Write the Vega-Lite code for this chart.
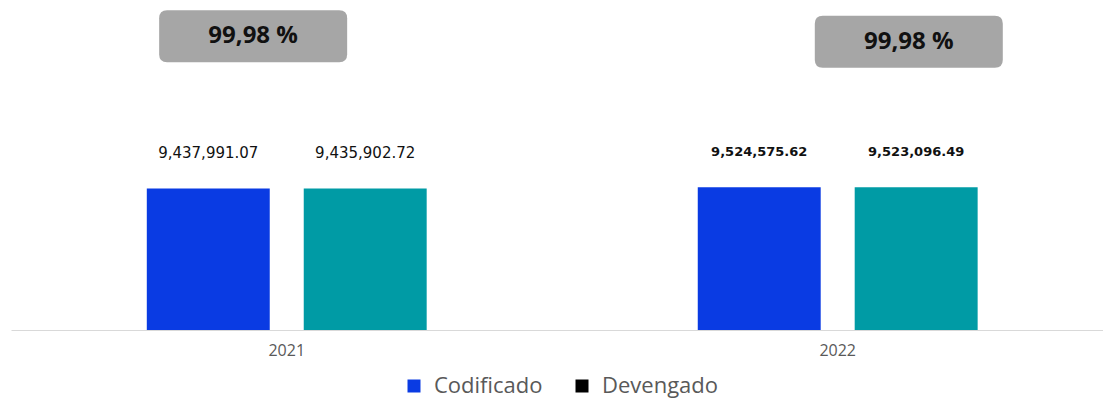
{
  "$schema": "https://vega.github.io/schema/vega-lite/v6.json",
  "width": 1092,
  "height": 330,
  "padding": {"left": 11, "top": 0, "right": 0, "bottom": 70},
  "autosize": {"type": "none"},
  "background": "#ffffff",
  "config": {"view": {"stroke": null}},
  "datasets": {
    "montos": [
      {"year": "2021", "serie": "Codificado", "valor": 9437991.07, "etiqueta": "9,437,991.07"},
      {"year": "2021", "serie": "Devengado", "valor": 9435902.72, "etiqueta": "9,435,902.72"},
      {"year": "2022", "serie": "Codificado", "valor": 9524575.62, "etiqueta": "9,524,575.62"},
      {"year": "2022", "serie": "Devengado", "valor": 9523096.49, "etiqueta": "9,523,096.49"}
    ],
    "pct": [
      {"year": "2021", "pct": "99,98 %"},
      {"year": "2022", "pct": "99,98 %"}
    ]
  },
  "data": {"name": "montos"},
  "encoding": {
    "x": {
      "field": "year", "type": "nominal",
      "scale": {"domain": ["2021", "2022"], "paddingInner": 0.492, "paddingOuter": 0.237, "align": 0.52},
      "axis": {
        "title": null, "labelAngle": 0, "ticks": false, "domainColor": "#d9d9d9", "domainWidth": 1,
        "labelFont": "Open Sans", "labelFontSize": 16, "labelColor": "#595959", "labelPadding": 12
      }
    },
    "xOffset": {"field": "serie", "type": "nominal", "scale": {"domain": ["Codificado", "Devengado"], "paddingInner": 0.2166, "paddingOuter": 0}}
  },
  "layer": [
    {
      "mark": {"type": "point", "filled": true, "opacity": 1, "shape": "square", "size": 169, "strokeWidth": 0, "yOffset": 40},
      "encoding": {
        "y": {"field": "valor", "type": "quantitative", "scale": {"domain": [0, 22000000], "nice": false}, "axis": null},
        "color": {
          "field": "serie", "type": "nominal",
          "scale": {"domain": ["Codificado", "Devengado"], "range": ["#0a3be3", "#000000"]},
          "legend": {
            "orient": "none", "legendX": 392, "legendY": 375, "direction": "horizontal", "title": null,
            "symbolType": "square", "symbolSize": 169, "symbolStrokeWidth": 0,
            "labelFont": "Open Sans", "labelFontSize": 22, "labelColor": "#595959",
            "columnPadding": 28, "labelOffset": 9
          }
        }
      }
    },
    {
      "mark": {"type": "bar"},
      "encoding": {
        "y": {"field": "valor", "type": "quantitative"},
        "fill": {
          "field": "serie", "type": "nominal",
          "scale": {"domain": ["Devengado", "Codificado"], "range": ["#009ba5", "#0a3be3"]},
          "legend": null
        }
      }
    },
    {
      "transform": [{"filter": "datum.year == '2021'"}],
      "mark": {"type": "text", "font": "DejaVu Sans", "fontSize": 15, "color": "#111111", "dy": -35, "baseline": "middle"},
      "encoding": {
        "y": {"field": "valor", "type": "quantitative"},
        "text": {"field": "etiqueta"}
      }
    },
    {
      "transform": [{"filter": "datum.year == '2022'"}],
      "mark": {"type": "text", "font": "DejaVu Sans", "fontWeight": "bold", "fontSize": 13, "color": "#111111", "dy": -35, "baseline": "middle"},
      "encoding": {
        "y": {"field": "valor", "type": "quantitative"},
        "text": {"field": "etiqueta"}
      }
    },
    {
      "data": {"name": "pct"},
      "transform": [{"filter": "datum.year == '2021'"}],
      "layer": [
        {
          "mark": {"type": "point", "filled": true, "color": "#a6a6a6", "opacity": 1, "size": 35344, "strokeWidth": 0,
            "shape": "M-0.915,-0.2766 L0.915,-0.2766 Q1,-0.2766 1,-0.1916 L1,0.1916 Q1,0.2766 0.915,0.2766 L-0.915,0.2766 Q-1,0.2766 -1,0.1916 L-1,-0.1916 Q-1,-0.2766 -0.915,-0.2766 Z"},
          "encoding": {
            "x": {"field": "year", "type": "nominal", "bandPosition": 0.38},
            "xOffset": null,
            "y": {"datum": 19587000, "type": "quantitative"}
          }
        },
        {
          "mark": {"type": "text", "font": "Open Sans", "fontWeight": "bold", "fontSize": 24, "color": "#111111", "baseline": "middle", "align": "center"},
          "encoding": {
            "x": {"field": "year", "type": "nominal", "bandPosition": 0.38},
            "xOffset": null,
            "y": {"datum": 19587000, "type": "quantitative"},
            "text": {"field": "pct"}
          }
        }
      ]
    },
    {
      "data": {"name": "pct"},
      "transform": [{"filter": "datum.year == '2022'"}],
      "layer": [
        {
          "mark": {"type": "point", "filled": true, "color": "#a6a6a6", "opacity": 1, "size": 35344, "strokeWidth": 0,
            "shape": "M-0.915,-0.2766 L0.915,-0.2766 Q1,-0.2766 1,-0.1916 L1,0.1916 Q1,0.2766 0.915,0.2766 L-0.915,0.2766 Q-1,0.2766 -1,0.1916 L-1,-0.1916 Q-1,-0.2766 -0.915,-0.2766 Z"},
          "encoding": {
            "x": {"field": "year", "type": "nominal", "bandPosition": 0.754},
            "xOffset": null,
            "y": {"datum": 19213000, "type": "quantitative"}
          }
        },
        {
          "mark": {"type": "text", "font": "Open Sans", "fontWeight": "bold", "fontSize": 24, "color": "#111111", "baseline": "middle", "align": "center"},
          "encoding": {
            "x": {"field": "year", "type": "nominal", "bandPosition": 0.754},
            "xOffset": null,
            "y": {"datum": 19213000, "type": "quantitative"},
            "text": {"field": "pct"}
          }
        }
      ]
    }
  ]
}
